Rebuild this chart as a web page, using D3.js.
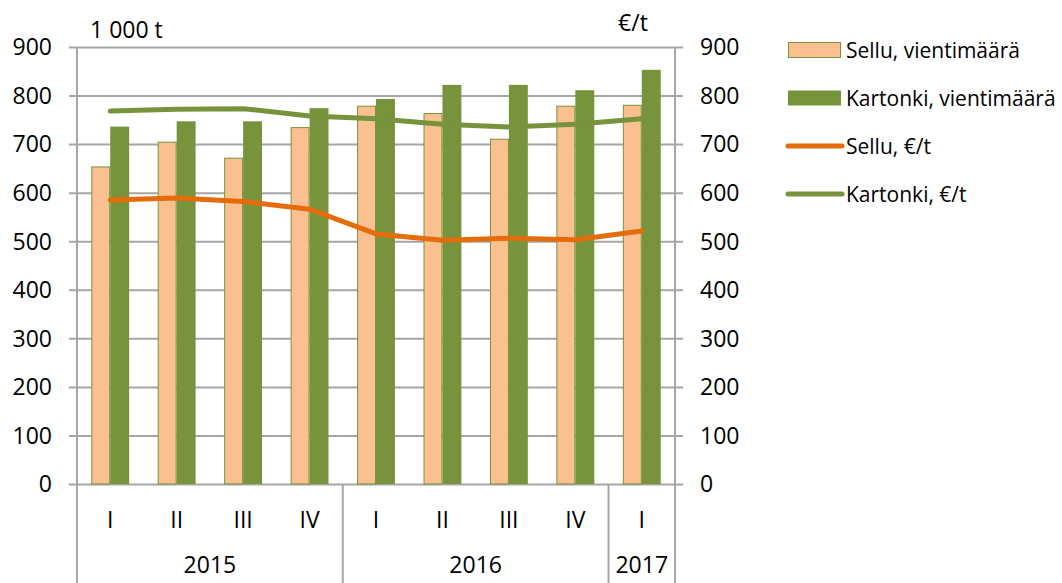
<!DOCTYPE html>
<html>
<head>
<meta charset="utf-8">
<script src="https://cdn.jsdelivr.net/npm/d3@7"></script>
<style>
  body { margin: 0; background: #fff; }
  text { font-family: "Open Sans", sans-serif; fill: #000; }
</style>
</head>
<body>
<div id="chart"></div>
<script>
var svgWidth = 1062;
var svgHeight = 583;

// data
var quarters = ["I", "II", "III", "IV", "I", "II", "III", "IV", "I"];
var years = ["2015", "2016", "2017"];
var yearSpans = [[0, 3], [4, 7], [8, 8]];
var selluVolume = [653, 704, 671, 734, 778, 763, 710, 778, 780];
var kartonkiVolume = [736, 747, 747, 774, 793, 822, 822, 811, 853];
var selluPrice = [585, 589, 582, 566, 515, 502, 506, 503, 521];
var kartonkiPrice = [768, 772, 773, 758, 752, 741, 735, 741, 752];
var yTicks = [0, 100, 200, 300, 400, 500, 600, 700, 800, 900];
var legendLabels = ["Sellu, vientimäärä", "Kartonki, vientimäärä", "Sellu, €/t", "Kartonki, €/t"];

var margin = { top: 47, right: 387, bottom: 99, left: 77 };
var width = svgWidth - margin.left - margin.right;
var height = svgHeight - margin.top - margin.bottom;

var peach = "#FAC090", green = "#77933C", orange = "#E46C0A", grid = "#A6A6A6";

var svg = d3.select("#chart")
  .append("svg")
  .attr("width", svgWidth)
  .attr("height", svgHeight);

var chartGroup = svg.append("g")
  .attr("transform", `translate(${margin.left}, ${margin.top})`);

var idx = quarters.map((q, i) => i);

var xBand = d3.scaleBand()
  .domain(idx)
  .range([0, width])
  .paddingInner(0.43)
  .paddingOuter(0.215);

var xSub = d3.scaleBand()
  .domain([0, 1])
  .range([0, xBand.bandwidth()]);

var yLeft = d3.scaleLinear().domain([0, 900]).range([height, 0]);
var yRight = d3.scaleLinear().domain([0, 900]).range([height, 0]);

// gridlines + ticks on both sides
chartGroup.append("g")
  .call(d3.axisLeft(yLeft).tickValues(yTicks).tickSize(-width - 8).tickFormat(""))
  .call(g => g.select(".domain").remove())
  .call(g => g.selectAll("line").attr("stroke", grid).attr("stroke-width", 2)
    .attr("x1", -8).attr("x2", width + 8));

// left labels
chartGroup.append("g")
  .selectAll("text")
  .data(yTicks)
  .enter()
  .append("text")
  .attr("x", -25)
  .attr("y", d => yLeft(d))
  .attr("dy", "0.36em")
  .attr("text-anchor", "end")
  .style("font-size", "23px")
  .text(d => d);

// right labels
chartGroup.append("g")
  .selectAll("text")
  .data(yTicks)
  .enter()
  .append("text")
  .attr("x", width + 25)
  .attr("y", d => yRight(d))
  .attr("dy", "0.36em")
  .attr("text-anchor", "start")
  .style("font-size", "23px")
  .text(d => d);

// vertical axes and year separators
var sepIdx = [0, 4, 8, 9];
chartGroup.selectAll(".sep")
  .data(sepIdx)
  .enter()
  .append("line")
  .attr("x1", d => d * xBand.step())
  .attr("x2", d => d * xBand.step())
  .attr("y1", d => (d === 0 || d === 9) ? 0 : height)
  .attr("y2", svgHeight - margin.top)
  .attr("stroke", grid)
  .attr("stroke-width", 2);

// bars
var groups = chartGroup.selectAll(".grp")
  .data(idx)
  .enter()
  .append("g")
  .attr("transform", i => `translate(${xBand(i)},0)`);

groups.append("rect")
  .attr("x", xSub(0) + 0.5)
  .attr("y", i => yLeft(selluVolume[i]))
  .attr("width", xSub.bandwidth() - 1)
  .attr("height", i => height - yLeft(selluVolume[i]))
  .attr("fill", peach)
  .attr("stroke", green)
  .attr("stroke-width", 1);

groups.append("rect")
  .attr("x", xSub(1))
  .attr("y", i => yLeft(kartonkiVolume[i]))
  .attr("width", xSub.bandwidth())
  .attr("height", i => height - yLeft(kartonkiVolume[i]))
  .attr("fill", green);

// lines
var cx = i => xBand(i) + xBand.bandwidth() / 2;
var priceLine = d3.line().x((d, i) => cx(i)).y(d => yRight(d));

chartGroup.append("path")
  .datum(selluPrice)
  .attr("d", priceLine)
  .attr("fill", "none")
  .attr("stroke", orange)
  .attr("stroke-width", 5)
  .attr("stroke-linecap", "round")
  .attr("stroke-linejoin", "round");

chartGroup.append("path")
  .datum(kartonkiPrice)
  .attr("d", priceLine)
  .attr("fill", "none")
  .attr("stroke", green)
  .attr("stroke-width", 5)
  .attr("stroke-linecap", "round")
  .attr("stroke-linejoin", "round");

// category labels
chartGroup.selectAll(".qlab")
  .data(idx)
  .enter()
  .append("text")
  .attr("x", i => cx(i))
  .attr("y", height + 44)
  .attr("text-anchor", "middle")
  .style("font-size", "23px")
  .text(i => quarters[i]);

chartGroup.selectAll(".ylab")
  .data(years)
  .enter()
  .append("text")
  .attr("x", (d, k) => (yearSpans[k][0] + yearSpans[k][1] + 1) / 2 * xBand.step())
  .attr("y", height + 89)
  .attr("text-anchor", "middle")
  .style("font-size", "23px")
  .text(d => d);

// axis titles
svg.append("text")
  .attr("x", 90)
  .attr("y", 38)
  .style("font-size", "23px")
  .text("1 000 t");

svg.append("text")
  .attr("x", 633)
  .attr("y", 31)
  .attr("text-anchor", "middle")
  .style("font-size", "23px")
  .text("€/t");

// legend
var legend = svg.append("g").attr("transform", "translate(788,0)");
var rowY = [50, 98, 146, 194];

legend.append("rect")
  .attr("x", 0.5).attr("y", rowY[0] - 7.5).attr("width", 52).attr("height", 15)
  .attr("fill", peach).attr("stroke", green).attr("stroke-width", 1);
legend.append("rect")
  .attr("x", 0).attr("y", rowY[1] - 7.5).attr("width", 53).attr("height", 15)
  .attr("fill", green);
legend.append("line")
  .attr("x1", 0).attr("x2", 54).attr("y1", rowY[2]).attr("y2", rowY[2])
  .attr("stroke", orange).attr("stroke-width", 5).attr("stroke-linecap", "round");
legend.append("line")
  .attr("x1", 0).attr("x2", 54).attr("y1", rowY[3]).attr("y2", rowY[3])
  .attr("stroke", green).attr("stroke-width", 5).attr("stroke-linecap", "round");

legend.selectAll(".lt")
  .data(legendLabels)
  .enter()
  .append("text")
  .attr("x", 58)
  .attr("y", (d, i) => rowY[i])
  .attr("dy", "0.36em")
  .style("font-size", "21px")
  .text(d => d);
</script>
</body>
</html>
